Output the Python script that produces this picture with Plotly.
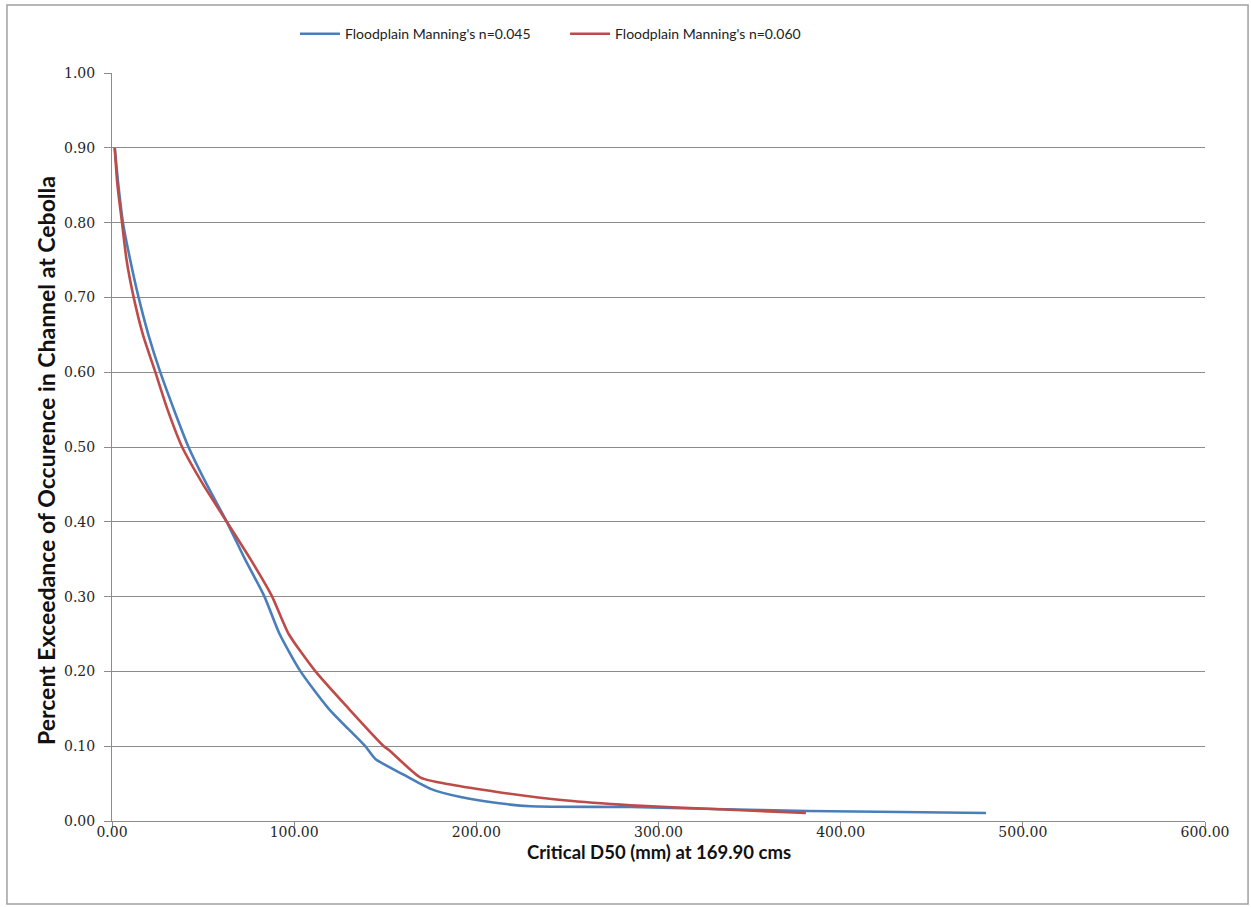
import plotly.graph_objects as go

# Critical D50 (mm) vs. exceedance fraction, two floodplain roughness cases
d50_n045 = [1.5, 3.5, 6, 10, 14.6, 20, 26.5, 34, 42, 52, 63, 73, 83.7, 92, 103.5,
            119, 139, 144.6, 160, 174.9, 191.4, 211.5, 229.8, 284.8, 330, 381.9, 433, 479.8]
exc_n045 = [0.90, 0.85, 0.80, 0.75, 0.70, 0.65, 0.60, 0.55, 0.50, 0.45, 0.40, 0.35, 0.30, 0.25, 0.20,
            0.15, 0.10, 0.083, 0.062, 0.043, 0.032, 0.024, 0.0197, 0.0187, 0.016, 0.0134, 0.012, 0.0107]

d50_n060 = [1.5, 3, 5.5, 8, 11.9, 17, 23.8, 30.5, 38.5, 50, 63, 76, 87.9, 97, 111.7,
            130, 149.2, 152, 169.4, 185.9, 211.5, 248, 284.8, 330, 380.9]
exc_n060 = [0.90, 0.85, 0.80, 0.75, 0.70, 0.65, 0.60, 0.55, 0.50, 0.45, 0.40, 0.35, 0.30, 0.25, 0.20,
            0.15, 0.10, 0.095, 0.058, 0.0487, 0.0388, 0.0277, 0.021, 0.016, 0.0107]

x_ticks = [0, 100, 200, 300, 400, 500, 600]
y_ticks = [0.0, 0.1, 0.2, 0.3, 0.4, 0.5, 0.6, 0.7, 0.8, 0.9, 1.0]

BLUE = "#4A7EBB"
RED = "#BE4B48"
GRID = "#8C8C8C"
SANS = "Lato, Open Sans, sans-serif"

fig = go.Figure()
fig.add_trace(go.Scatter(x=d50_n045, y=exc_n045, mode="lines",
                         line=dict(color=BLUE, width=2.6, shape="spline", smoothing=0.6),
                         name="Floodplain Manning's n=0.045", legend="legend"))
fig.add_trace(go.Scatter(x=d50_n060, y=exc_n060, mode="lines",
                         line=dict(color=RED, width=2.6, shape="spline", smoothing=0.6),
                         name="Floodplain Manning's n=0.060", legend="legend2"))

tick_font = dict(family="DejaVu Serif, Liberation Serif, serif", size=14, color="#262626")

fig.update_xaxes(range=[0, 600], tickvals=x_ticks,
                 ticktext=[f"{v:.2f}" for v in x_ticks],
                 showgrid=False, zeroline=False, showline=True, linecolor=GRID, linewidth=1,
                 ticks="outside", ticklen=5, tickcolor=GRID, tickfont=tick_font,
                 ticklabelstandoff=-7)
fig.update_yaxes(range=[0, 1.0], tickvals=y_ticks,
                 ticktext=[f"{v:.2f}" for v in y_ticks],
                 showgrid=True, gridcolor=GRID, gridwidth=1, zeroline=False,
                 showline=True, linecolor=GRID, linewidth=1,
                 ticks="outside", ticklen=7, tickcolor=GRID, tickfont=tick_font,
                 ticklabelstandoff=6)

legend_style = dict(orientation="h", xanchor="left", y=1.052, yanchor="middle",
                    font=dict(family=SANS, size=14, color="#222222"),
                    itemwidth=40, bgcolor="rgba(0,0,0,0)")

fig.update_layout(
    width=1251, height=907,
    margin=dict(l=112, r=46, t=73, b=86),
    plot_bgcolor="white", paper_bgcolor="white",
    showlegend=True,
    legend=dict(x=0.1674, **legend_style),
    legend2=dict(x=0.4145, **legend_style),
    annotations=[
        dict(text="<b>Percent Exceedance of Occurence in Channel at Cebolla</b>",
             xref="paper", yref="paper", x=-0.0604, y=0.4826,
             xanchor="center", yanchor="middle", textangle=-90, showarrow=False,
             font=dict(family=SANS, size=23, color="#111111")),
        dict(text="<b>Critical D50 (mm) at 169.90 cms</b>",
             xref="paper", yref="paper", x=0.5, y=-0.0415,
             xanchor="center", yanchor="middle", showarrow=False,
             font=dict(family=SANS, size=18.5, color="#111111")),
    ],
    shapes=[dict(type="rect", xref="paper", yref="paper",
                 x0=-0.0961, x1=1.0394, y0=-0.111, y1=1.0909,
                 line=dict(color="#A0A0A0", width=1.5), fillcolor="rgba(0,0,0,0)", layer="below")],
)

fig.write_html("out.html")
